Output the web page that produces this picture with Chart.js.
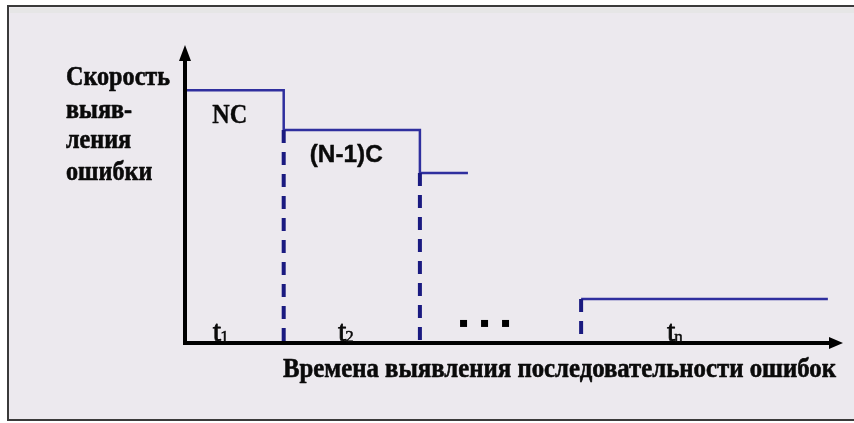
<!DOCTYPE html>
<html>
<head>
<meta charset="utf-8">
<script src="https://cdn.jsdelivr.net/npm/chart.js@4"></script>
<style>
  html, body { margin: 0; padding: 0; background: #ffffff; }
  #wrap { width: 854px; height: 423px; position: relative; }
</style>
</head>
<body>
<div id="wrap"><canvas id="c" width="854" height="423"></canvas></div>
<script>
// ---- data ----
const intervalEdges   = [0, 1.5, 3.57, 4.3];     // t-axis edges of first intervals (third cut short)
const intensities     = [8.63, 7.27, 5.8];       // failure rate on each interval
const lastEdges       = [6.02, 9.77];            // last interval t_n
const lastIntensity   = 1.5;
const rateLabels      = ['NC', '(N-1)C'];
const rateLabelX      = [0.68, 2.45];
const rateLabelY      = [7.5, 6.18];
const intervalSubs    = ['1', '2', 'n'];
const intervalLabelX  = [0.55, 2.45, 7.45];
const ellipsisX       = 4.56;
const ellipsisY       = 0.65;
const yTitleLines     = ['Скорость', 'выяв-', 'ления', 'ошибки'];
const xTitle          = 'Времена выявления последовательности ошибок';

// ---- build datasets ----
const stepPoints = [];
intensities.forEach((r, i) => {
  stepPoints.push({ x: intervalEdges[i], y: r });
  stepPoints.push({ x: intervalEdges[i + 1], y: r });
});
const lastPoints = lastEdges.map(x => ({ x, y: lastIntensity }));

const dashedDrops = [
  { x: intervalEdges[1], y: intensities[1] },
  { x: intervalEdges[2], y: intensities[2] },
  { x: lastEdges[0], y: lastIntensity }
];

const STEP_COLOR = '#2f2f9e';
const DASH_COLOR = '#1a1a80';

const datasets = [];
dashedDrops.forEach(d => {
  datasets.push({
    data: [{ x: d.x, y: d.y }, { x: d.x, y: 0 }],
    borderColor: DASH_COLOR, borderWidth: 4, borderDash: [13, 9],
    showLine: true, pointRadius: 0, borderCapStyle: 'butt'
  });
});
datasets.push({
  data: stepPoints, borderColor: STEP_COLOR, borderWidth: 2.5,
  showLine: true, pointRadius: 0, borderJoinStyle: 'miter'
});
datasets.push({
  data: lastPoints, borderColor: STEP_COLOR, borderWidth: 2.5,
  showLine: true, pointRadius: 0
});

function fitText(ctx, text, left, baseline, sx, heavy) {
  ctx.save();
  ctx.translate(left, baseline);
  ctx.scale(sx, 1);
  if (heavy) {
    ctx.lineWidth = heavy;
    ctx.strokeStyle = ctx.fillStyle;
    ctx.lineJoin = 'round';
    ctx.strokeText(text, 0, 0);
  }
  ctx.fillText(text, 0, 0);
  ctx.restore();
}

const decor = {
  id: 'decor',
  beforeDraw(chart) {
    const ctx = chart.ctx;
    ctx.save();
    ctx.fillStyle = '#ffffff';
    ctx.fillRect(0, 0, 854, 423);
    ctx.fillStyle = '#ece9ee';
    ctx.fillRect(8, 6, 846, 414);
    ctx.fillStyle = '#e6e6e6';
    ctx.fillRect(10, 8, 844, 5);
    ctx.strokeStyle = '#3a3a3a';
    ctx.lineWidth = 2;
    ctx.beginPath();
    ctx.moveTo(854, 6); ctx.lineTo(8, 6); ctx.lineTo(8, 420); ctx.lineTo(854, 420);
    ctx.stroke();
    ctx.restore();
  },
  afterDatasetsDraw(chart) {
    const ctx = chart.ctx;
    const xs = chart.scales.x, ys = chart.scales.y;
    const ca = chart.chartArea;
    ctx.save();
    // axes
    ctx.strokeStyle = '#000';
    ctx.fillStyle = '#000';
    ctx.lineWidth = 4;
    ctx.lineCap = 'round';
    ctx.beginPath();
    ctx.moveTo(ca.left, 58);
    ctx.lineTo(ca.left, ca.bottom);
    ctx.lineTo(ca.right - 8, ca.bottom);
    ctx.stroke();
    // arrows
    ctx.beginPath();
    ctx.moveTo(ca.left, 45);
    ctx.lineTo(ca.left - 6, 61);
    ctx.lineTo(ca.left + 6, 61);
    ctx.closePath();
    ctx.fill();
    ctx.beginPath();
    ctx.moveTo(ca.right, ca.bottom);
    ctx.lineTo(ca.right - 14, ca.bottom - 6);
    ctx.lineTo(ca.right - 14, ca.bottom + 6);
    ctx.closePath();
    ctx.fill();

    ctx.fillStyle = '#0a0a0a';
    ctx.textBaseline = 'alphabetic';
    // y title lines
    ctx.font = 'bold 28px "Liberation Serif"';
    const s0 = 104 / ctx.measureText(yTitleLines[0]).width;
    const baselines = [85, 118, 148, 180];
    yTitleLines.forEach((t, i) => fitText(ctx, t, 66, baselines[i], s0, 0.6));

    // x title
    ctx.font = 'bold 28px "Liberation Serif"';
    const sx = 553 / ctx.measureText(xTitle).width;
    fitText(ctx, xTitle, 283, 377, sx, 0.6);

    // rate labels
    ctx.textAlign = 'left';
    ctx.font = 'bold 27px "Liberation Serif"';
    let w = ctx.measureText(rateLabels[0]).width;
    fitText(ctx, rateLabels[0], xs.getPixelForValue(rateLabelX[0]) - 17.5, ys.getPixelForValue(rateLabelY[0]), 35 / w, 0.4);
    ctx.font = 'bold 23px "Liberation Sans"';
    w = ctx.measureText(rateLabels[1]).width;
    fitText(ctx, rateLabels[1], xs.getPixelForValue(rateLabelX[1]) - 36.5, ys.getPixelForValue(rateLabelY[1]), 73 / w, 0.4);

    // interval labels t1, t2, tn
    intervalSubs.forEach((s, i) => {
      const px = xs.getPixelForValue(intervalLabelX[i]);
      const py = ca.bottom - 2;
      ctx.font = '30px "Liberation Serif"';
      const tw = ctx.measureText('t').width;
      fitText(ctx, 't', px - tw, py, 1, 0.8);
      ctx.font = '17px "Liberation Serif"';
      fitText(ctx, s, px - 1, py + 1, 1, 0.5);
    });

    // ellipsis
    const ex = xs.getPixelForValue(ellipsisX);
    const ey = ys.getPixelForValue(ellipsisY);
    ctx.fillStyle = '#000';
    [-21, 0, 21].forEach(d => ctx.fillRect(ex + d - 4, ey - 4, 7, 7));
    ctx.restore();
  }
};

new Chart(document.getElementById('c'), {
  type: 'scatter',
  data: { datasets },
  options: {
    responsive: false,
    animation: false,
    events: [],
    layout: { padding: { left: 185, top: 50, right: 11, bottom: 80 } },
    plugins: { legend: { display: false }, tooltip: { enabled: false } },
    scales: {
      x: { type: 'linear', min: 0, max: 10, display: false },
      y: { type: 'linear', min: 0, max: 10, display: false }
    },
    elements: { line: { tension: 0 } }
  },
  plugins: [decor]
});
</script>
</body>
</html>
